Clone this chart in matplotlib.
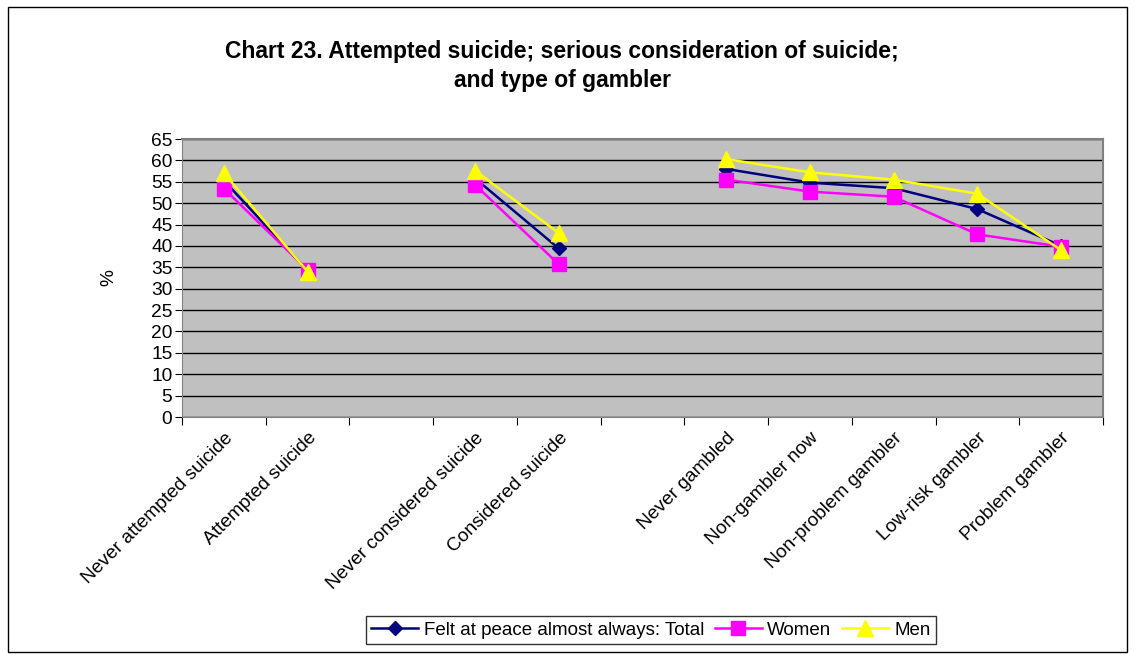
import numpy as np
import matplotlib.pyplot as plt
from matplotlib.patches import Rectangle

plt.rcParams['font.family'] = ['Liberation Sans', 'DejaVu Sans']

# blank strings are the spacer slots between the three groups
categories = ['Never attempted suicide', 'Attempted suicide', '',
              'Never considered suicide', 'Considered suicide', '',
              'Never gambled', 'Non-gambler now', 'Non-problem gambler',
              'Low-risk gambler', 'Problem gambler']
nan = np.nan
total = [55.3, 34.2, nan, 55.8, 39.4, nan, 58.0, 54.8, 53.5, 48.6, 40.0]
women = [53.4, 34.4, nan, 54.3, 35.7, nan, 55.5, 52.7, 51.5, 42.7, 39.8]
men = [57.0, 34.0, nan, 57.6, 43.0, nan, 60.3, 57.2, 55.5, 52.2, 39.0]

fs = 13.8

fig = plt.figure(figsize=(11.37, 6.59), dpi=100)
fig.patches.append(Rectangle((8 / 1137, 7 / 659), 1119 / 1137, 645 / 659,
                             transform=fig.transFigure, fill=False,
                             edgecolor='black', linewidth=1))

ax = fig.add_axes([182 / 1137, 1 - 417 / 659, 921 / 1137, 278 / 659])
ax.set_facecolor('#c0c0c0')

x = np.arange(len(categories))
ax.plot(x, total, color='#000080', marker='D', markersize=7, linewidth=1.8,
        label='Felt at peace almost always: Total')
ax.plot(x, women, color='#ff00ff', marker='s', markersize=10, linewidth=1.8,
        label='Women')
ax.plot(x, men, color='#ffff00', marker='^', markersize=11, linewidth=1.8,
        label='Men')

ax.set_xlim(-0.5, len(categories) - 0.5)
ax.set_ylim(0, 65)
ax.set_yticks(range(0, 66, 5))
ax.yaxis.grid(True, color='black', linewidth=1)
ax.set_axisbelow(True)
ax.tick_params(axis='y', labelsize=fs, length=5, direction='out', pad=2)

# category ticks sit between the slots, labels centred under each slot
ax.set_xticks(np.arange(-0.5, len(categories), 1))
ax.set_xticklabels([])
ax.tick_params(axis='x', length=6, direction='out')
ax.set_xticks(x, minor=True)
ax.set_xticklabels(categories, minor=True, rotation=45, ha='right',
                   rotation_mode='anchor', fontsize=fs)
ax.tick_params(axis='x', which='minor', length=0, pad=9)

for side in ['top', 'right']:
    ax.spines[side].set_color('#808080')
    ax.spines[side].set_linewidth(1.5)
ax.spines['left'].set_color('#808080')
ax.spines['bottom'].set_color('#808080')

ax.set_ylabel('%', fontsize=fs, labelpad=24)

fig.text(562 / 1137, 1 - 66 / 659,
         'Chart 23. Attempted suicide; serious consideration of suicide;\n'
         'and type of gambler',
         ha='center', va='center', fontsize=16.5, fontweight='bold',
         linespacing=1.3)

leg = fig.legend(loc='center', bbox_to_anchor=(651 / 1137, 1 - 630 / 659),
                 ncol=3, frameon=True, fancybox=False, edgecolor='black',
                 fontsize=13.5, handlelength=2.5, handletextpad=0.3,
                 columnspacing=0.55, borderpad=0.3, borderaxespad=0)
leg.get_frame().set_linewidth(1)

fig.savefig('out.png', dpi=100)
